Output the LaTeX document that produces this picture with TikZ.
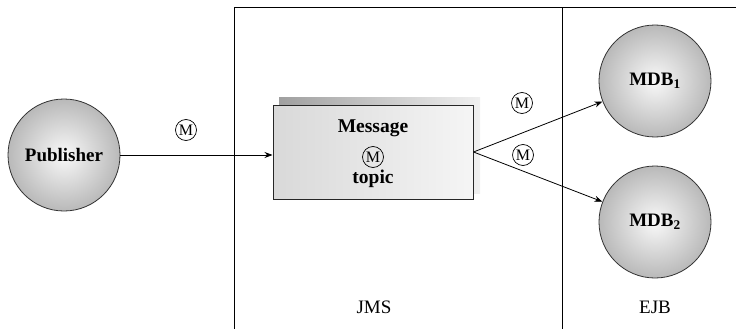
\documentclass[tikz,border=0pt]{standalone}
\usepackage{fontspec}
\setmainfont{Liberation Serif}
\usetikzlibrary{arrows.meta,shadings}
\begin{document}
\begin{tikzpicture}[x=1pt,y=1pt]
\tikzset{
 ball/.style={circle, draw=black!80, line width=0.8pt, inner color=gray!5, outer color=gray!55, minimum size=112pt, inner sep=0pt, font=\bfseries\fontsize{19}{22}\selectfont},
 mlab/.style={circle, draw, line width=0.7pt, inner sep=0pt, minimum size=21pt, font=\fontsize{16}{16}\selectfont},
 conn/.style={-{Stealth[length=8pt,width=6pt]}, line width=0.8pt},
 frame/.style={line width=1pt},
 txt/.style={font=\fontsize{19}{22}\selectfont},
 boxtxt/.style={font=\bfseries\fontsize{19.5}{22}\selectfont},
}
\useasboundingbox (0,0) rectangle (736,-329);
% frame
\coordinate (fl) at (234,-329);
\coordinate (ftl) at (234,-8);
\coordinate (ftr) at (736,-8);
\coordinate (md) at (562,-8);
\coordinate (mb) at (562,-329);
\draw[frame] (fl) -- (ftl) -- (ftr);
\draw[frame] (md) -- (mb);
% shadow + box
\shade[left color=gray!75, right color=gray!12] (279,-97) rectangle (480,-193);
\node[draw=black!85, line width=1pt, minimum width=200pt, minimum height=94pt, inner sep=0pt, left color=gray!30, right color=gray!8] (topic) at (373,-152) {};
\node[boxtxt] (msg) at (373,-128) {Message};
\node[mlab] (mt) at (373,-157) {M};
\node[boxtxt] (tp) at (373,-179) {topic};
% circles
\node[ball] (pub) at (64,-155) {Publisher};
\node[ball] (mdb1) at (655,-81) {MDB$_\mathbf{1}$};
\node[ball] (mdb2) at (655,-222) {MDB$_\mathbf{2}$};
% connectors
\draw[conn] (pub) -- (pub -| topic.west);
\draw[conn] (topic.east) -- (mdb1);
\draw[conn] (topic.east) -- (mdb2);
% M labels
\node[mlab] (m1) at (186,-130) {M};
\node[mlab] (m2) at (522,-103) {M};
\node[mlab] (m3) at (523,-155) {M};
% region labels
\node[txt] (jms) at (374,-307) {JMS};
\node[txt] (ejb) at (655,-307) {EJB};
\end{tikzpicture}
\end{document}
